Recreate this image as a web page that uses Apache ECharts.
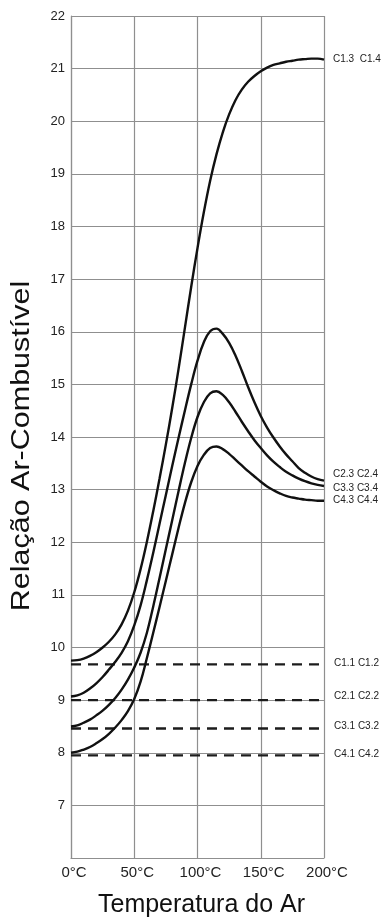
<!DOCTYPE html>
<html>
<head>
<meta charset="utf-8">
<title>Relação Ar-Combustível</title>
<script src="https://cdn.jsdelivr.net/npm/echarts@6/dist/echarts.min.js"></script>
<style>
  html, body { margin: 0; padding: 0; background: #fff; }
  #chart { width: 386px; height: 919px; }
</style>
</head>
<body>
<div id="chart"></div>
<script>
// Air temperature (°C) at which each curve is sampled
const temps = [0, 5, 10, 15, 20, 25, 30, 35, 40, 45, 50, 55, 60, 65, 70, 75, 80, 85, 90, 95, 100,
               105, 110, 115, 120, 125, 130, 135, 140, 145, 150, 155, 160, 165, 170, 175, 180, 185, 190, 195, 200];

// Air-fuel ratio for each regime (one value per entry in temps)
const ratioC1 = [9.75, 9.76, 9.79, 9.84, 9.91, 10.00, 10.11, 10.25, 10.44, 10.70, 11.05, 11.49, 12.01, 12.59, 13.21, 13.86, 14.55, 15.29, 16.07, 16.85, 17.59,
                 18.27, 18.87, 19.37, 19.79, 20.13, 20.40, 20.60, 20.75, 20.86, 20.95, 21.02, 21.07, 21.10, 21.13, 21.15, 21.17, 21.18, 21.19, 21.19, 21.17];
const ratioC2 = [9.07, 9.09, 9.14, 9.22, 9.32, 9.44, 9.58, 9.73, 9.90, 10.12, 10.42, 10.80, 11.28, 11.80, 12.35, 12.90, 13.45, 13.98, 14.50, 15.00, 15.45,
                 15.80, 16.01, 16.06, 15.96, 15.79, 15.55, 15.26, 14.95, 14.66, 14.40, 14.18, 13.99, 13.82, 13.67, 13.54, 13.41, 13.32, 13.25, 13.20, 13.17];
const ratioC3 = [8.50, 8.52, 8.57, 8.63, 8.71, 8.80, 8.91, 9.04, 9.20, 9.39, 9.62, 9.90, 10.28, 10.78, 11.32, 11.87, 12.42, 12.97, 13.50, 13.98, 14.38,
                 14.66, 14.83, 14.87, 14.80, 14.66, 14.48, 14.29, 14.11, 13.94, 13.79, 13.65, 13.53, 13.43, 13.34, 13.27, 13.21, 13.16, 13.12, 13.09, 13.07];
const ratioC4 = [8.00, 8.02, 8.06, 8.11, 8.18, 8.26, 8.36, 8.48, 8.62, 8.79, 9.02, 9.35, 9.80, 10.28, 10.77, 11.27, 11.77, 12.27, 12.74, 13.14, 13.45,
                 13.66, 13.79, 13.82, 13.77, 13.68, 13.57, 13.46, 13.35, 13.25, 13.15, 13.06, 12.99, 12.93, 12.88, 12.85, 12.83, 12.81, 12.80, 12.79, 12.79];

// Constant (temperature-independent) ratios
const floorLevels = [9.68, 9.0, 8.46, 7.95];

// Text
const curveNames = ['C1.3  C1.4', 'C2.3 C2.4', 'C3.3 C3.4', 'C4.3 C4.4'];
const floorNames = ['C1.1 C1.2', 'C2.1 C2.2', 'C3.1 C3.2', 'C4.1 C4.2'];
const xTitle = 'Temperatura do Ar';
const yTitle = 'Relação Ar-Combustível';
const yMin = 6, yMax = 22, yStep = 1;
const xMin = 0, xMax = 200, xStep = 50;

// Vertical nudges for the right-hand labels so they do not collide
const curveLabelShift = [0, -6, 2, 0];
const floorLabelShift = [-1, -4, -2, -1];

const FONT = '"Liberation Sans", Arial, Helvetica, sans-serif';
const GRID_COLOR = '#8f8f8f';
const INK = '#111';

const chart = echarts.init(document.getElementById('chart'), null, { renderer: 'canvas' });

const curveValues = [ratioC1, ratioC2, ratioC3, ratioC4];
const series = [];

curveValues.forEach((vals, i) => {
  series.push({
    type: 'line',
    name: curveNames[i],
    data: temps.map((t, k) => [t, vals[k]]),
    smooth: 0.4,
    showSymbol: false,
    symbol: 'none',
    lineStyle: { color: INK, width: 2.4 },
    z: 5,
    endLabel: {
      show: true,
      formatter: curveNames[i],
      distance: 9,
      offset: [0, curveLabelShift[i]],
      color: '#222',
      fontSize: 10,
      fontFamily: FONT
    }
  });
});

floorLevels.forEach((v, i) => {
  series.push({
    type: 'line',
    name: floorNames[i],
    data: [[xMin, v], [xMax, v]],
    showSymbol: false,
    symbol: 'none',
    lineStyle: { color: '#1c1c1c', width: 2.4, type: [10, 7] },
    z: 4,
    endLabel: {
      show: true,
      formatter: floorNames[i],
      distance: 10,
      offset: [0, floorLabelShift[i]],
      color: '#222',
      fontSize: 10,
      fontFamily: FONT
    }
  });
});

chart.setOption({
  animation: false,
  backgroundColor: '#fff',
  grid: { left: 71, right: 62, top: 16, bottom: 61, containLabel: false, outerBoundsMode: 'none' },
  xAxis: {
    type: 'value',
    min: xMin, max: xMax, interval: xStep,
    name: xTitle,
    nameLocation: 'middle',
    nameGap: 35,
    nameTextStyle: { fontSize: 25, fontFamily: FONT, color: INK, padding: [0, 0, 0, 8] },
    axisLine: { show: true, lineStyle: { color: GRID_COLOR, width: 1.2 } },
    axisTick: { show: false },
    axisLabel: {
      formatter: '{value}°C',
      fontSize: 15, fontFamily: FONT, color: '#222', margin: 7,
      padding: [0, 0, 0, 6]
    },
    splitLine: { show: true, lineStyle: { color: GRID_COLOR, width: 1.2 } }
  },
  yAxis: {
    type: 'value',
    min: yMin, max: yMax, interval: yStep,
    axisLine: { show: true, lineStyle: { color: GRID_COLOR, width: 1.2 } },
    axisTick: { show: false },
    axisLabel: {
      formatter: v => (v === yMin ? '' : String(v)),
      fontSize: 13, fontFamily: FONT, color: '#222', margin: 6
    },
    splitLine: { show: true, lineStyle: { color: GRID_COLOR, width: 1.2 } }
  },
  graphic: [{
    type: 'text',
    x: 22,
    y: 446,
    rotation: Math.PI / 2,
    scaleX: 1.22,
    style: {
      text: yTitle,
      fontSize: 25,
      fontFamily: FONT,
      fill: INK,
      textAlign: 'center',
      textVerticalAlign: 'middle'
    }
  }],
  series: series
});
</script>
</body>
</html>
